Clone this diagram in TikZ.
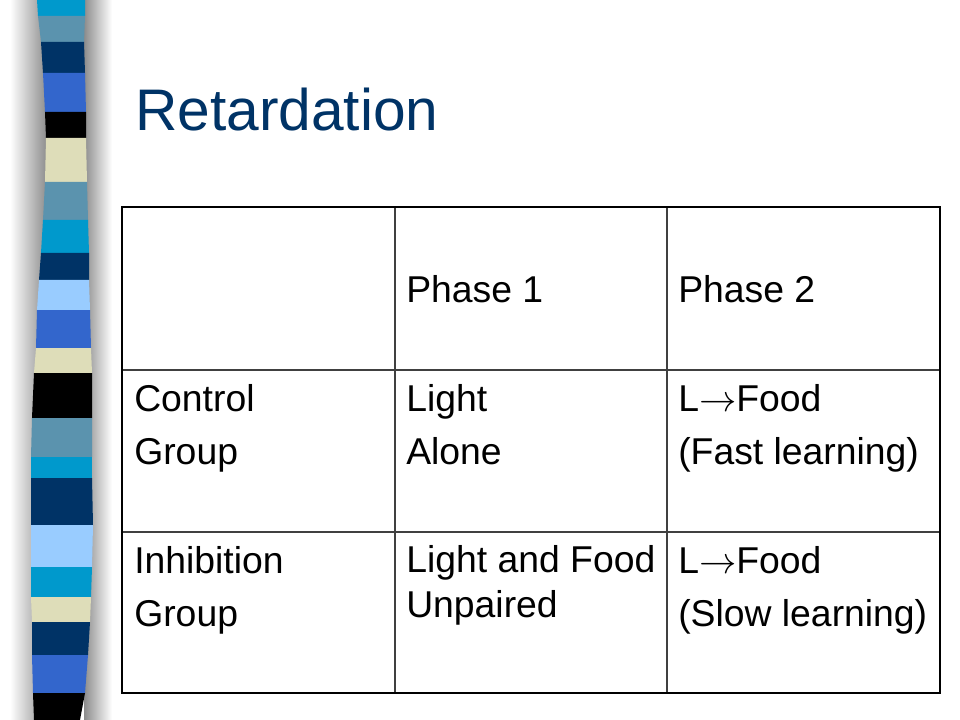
\RequirePackage{fix-cm}
\documentclass[tikz,border=0pt]{standalone}
\usepackage{fontspec}
\setmainfont{Liberation Sans}
\definecolor{titleblue}{HTML}{003366}
\definecolor{barcyan}{HTML}{0099CC}
\definecolor{barsteel}{HTML}{5B93AE}
\definecolor{barnavy}{HTML}{003366}
\definecolor{barroyal}{HTML}{3366CC}
\definecolor{barbeige}{HTML}{DEDDB9}
\definecolor{barlight}{HTML}{99CCFF}
\newcommand{\toarrow}{$\rightarrow$}
\tikzset{
  celltext/.style={anchor=base west,inner sep=0pt,align=left,font=\fontsize{28}{39.75}\selectfont},
  wraptext/.style={celltext,font=\fontsize{28}{33.75}\selectfont},
  gridline/.style={line width=1.1pt,black!75},
  outerline/.style={line width=2.2pt,black}
}
\begin{document}
\begin{tikzpicture}[x=0.75pt,y=-0.75pt]

\useasboundingbox[fill=white] (0,0) rectangle (960,720) ;

\shade[left color=white,right color=black!45] (10,0) rectangle (47,720) ;
\shade[left color=black!45,right color=white] (84,0) rectangle (112,720) ;

\fill[barcyan]  (37,0) -- (85,0) -- (85,16) -- (38,16) -- cycle ;
\fill[barsteel] (38,16) -- (85,16) -- (84,42) -- (41,42) -- cycle ;
\fill[barnavy]  (41,42) -- (84,42) -- (85,73) -- (43,73) -- cycle ;
\fill[barroyal] (43,73) -- (85,73) -- (86,112) -- (45,112) -- cycle ;
\fill[black]    (45,112) -- (86,112) -- (86,138) -- (46,138) -- cycle ;
\fill[barbeige] (46,138) -- (86,138) -- (87,182) -- (45,182) -- cycle ;
\fill[barsteel] (45,182) -- (87,182) -- (88,220) -- (43,220) -- cycle ;
\fill[barcyan]  (43,220) -- (88,220) -- (89,253) -- (41,253) -- cycle ;
\fill[barnavy]  (41,253) -- (89,253) -- (89,280) -- (39,280) -- cycle ;
\fill[barlight] (39,280) -- (89,280) -- (90,310) -- (37,310) -- cycle ;
\fill[barroyal] (37,310) -- (90,310) -- (91,348) -- (36,348) -- cycle ;
\fill[barbeige] (36,348) -- (91,348) -- (92,373) -- (34,373) -- cycle ;
\fill[black]    (34,373) -- (92,373) -- (92,418) -- (32,418) -- cycle ;
\fill[barsteel] (32,418) -- (92,418) -- (92,457) -- (31,457) -- cycle ;
\fill[barcyan]  (31,457) -- (92,457) -- (92,478) -- (31,478) -- cycle ;
\fill[barnavy]  (31,478) -- (92,478) -- (93,525) -- (31,525) -- cycle ;
\fill[barlight] (31,525) -- (93,525) -- (92,567) -- (31,567) -- cycle ;
\fill[barcyan]  (31,567) -- (92,567) -- (91,597) -- (31,597) -- cycle ;
\fill[barbeige] (31,597) -- (91,597) -- (90,622) -- (32,622) -- cycle ;
\fill[barnavy]  (32,622) -- (90,622) -- (88,655) -- (32,655) -- cycle ;
\fill[barroyal] (32,655) -- (88,655) -- (85,693) -- (33,693) -- cycle ;
\fill[black]    (33,693) -- (85,693) -- (80,720) -- (34,720) -- cycle ;

\node[anchor=base west,inner sep=0pt,text=titleblue,font=\fontsize{44}{52}\selectfont] (title) at (135,131) {Retardation} ;

\coordinate (nw) at (122,207) ;
\coordinate (se) at (940,693) ;

\draw[gridline] (395,207) -- (395,693) ;
\draw[gridline] (667,207) -- (667,693) ;
\draw[gridline] (122,370) -- (940,370) ;
\draw[gridline] (122,532) -- (940,532) ;
\draw[outerline] (nw) rectangle (se) ;

\node[celltext] (phaseA) at (406,302) {Phase 1} ;
\node[celltext] (phaseB) at (678,302) {Phase 2} ;

\node[celltext] (ctrl) at (134,464) {Control\\Group} ;
\node[celltext] (ctrlA) at (406,464) {Light\\Alone} ;
\node[celltext] (ctrlB) at (678,464) {L\toarrow Food\\(Fast learning)} ;

\node[celltext] (inhib) at (134,626) {Inhibition\\Group} ;
\node[wraptext] (inhibA) at (406,617) {Light and Food\\Unpaired} ;
\node[celltext] (inhibB) at (678,626) {L\toarrow Food\\(Slow learning)} ;

\end{tikzpicture}
\end{document}
